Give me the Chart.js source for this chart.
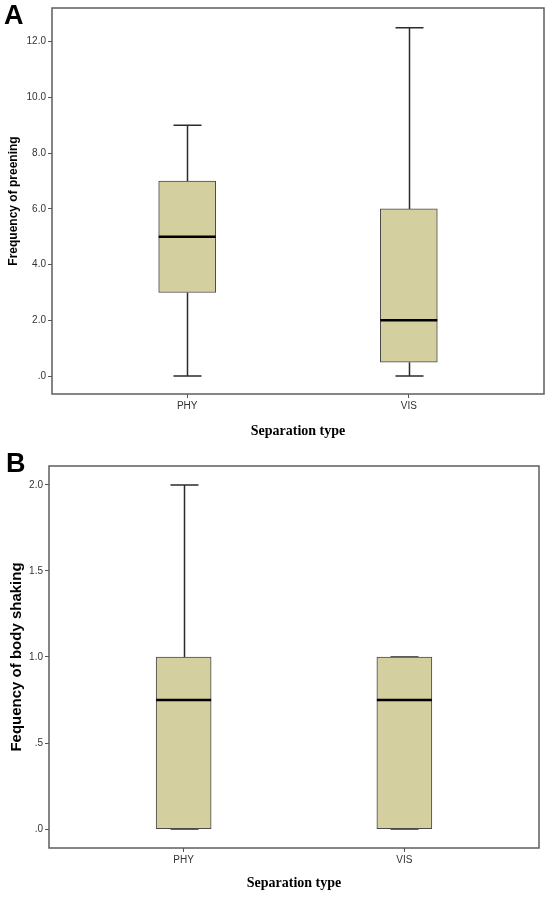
<!DOCTYPE html>
<html lang="en">
<head>
    <meta charset="UTF-8">
    <title>Preening and body shaking by separation type</title>
    <style>
        body { margin: 0; background: #fff; }
        #wrap { position: relative; width: 551px; height: 899px; }
        canvas { position: absolute; left: 0; }
        #chartA { top: 0; }
        #chartB { top: 445px; }
        .panel {
            position: absolute;
            font-family: "Liberation Sans", Arial, sans-serif;
            font-weight: bold;
            font-size: 27px;
            line-height: 1;
            color: #000;
        }
    </style>
    <script src="https://cdn.jsdelivr.net/npm/chart.js"></script>
</head>
<body>
    <div id="wrap">
        <canvas id="chartA" width="551" height="445"></canvas>
        <canvas id="chartB" width="551" height="454"></canvas>
        <div class="panel" style="left:4px; top:2px;">A</div>
        <div class="panel" style="left:6px; top:450px;">B</div>
    </div>

    <script>
        const categories = ['PHY', 'VIS'];

        // panel A - frequency of preening
        const preenMin = [0, 0];
        const preenQ1 = [3, 0.5];
        const preenMedian = [5, 2];
        const preenQ3 = [7, 6];
        const preenMax = [9, 12.5];
        const preenTicks = [0, 2, 4, 6, 8, 10, 12];

        // panel B - frequency of body shaking
        const shakeMin = [0, 0];
        const shakeQ1 = [0, 0];
        const shakeMedian = [0.75, 0.75];
        const shakeQ3 = [1, 1];
        const shakeMax = [2, 1];
        const shakeTicks = [0, 0.5, 1, 1.5, 2];

        const tickFont = { family: '"Liberation Sans", Arial, sans-serif', size: 10 };

        function spssLabel(v) {
            let s = Number(v).toFixed(1);
            if (s.startsWith('0')) s = s.slice(1);
            return s;
        }

        // whiskers, caps, medians and the frame round the plot area
        const boxPlot = {
            id: 'boxPlot',
            beforeDatasetsDraw(chart, args, opts) {
                const ctx = chart.ctx;
                const xs = chart.scales.x, ys = chart.scales.y;
                ctx.save();
                ctx.strokeStyle = '#2b2b2b';
                ctx.lineWidth = 1.5;
                opts.mins.forEach((mn, i) => {
                    const x = Math.round(xs.getPixelForValue(i + 1)) + 0.5;
                    const yMax = ys.getPixelForValue(opts.maxs[i]);
                    const yQ3 = ys.getPixelForValue(opts.q3s[i]);
                    const yQ1 = ys.getPixelForValue(opts.q1s[i]);
                    const yMin = ys.getPixelForValue(mn);
                    ctx.beginPath();
                    ctx.moveTo(x, yMax); ctx.lineTo(x, yQ3);
                    ctx.moveTo(x, yQ1); ctx.lineTo(x, yMin);
                    ctx.moveTo(x - opts.cap, yMax); ctx.lineTo(x + opts.cap, yMax);
                    ctx.moveTo(x - opts.cap, yMin); ctx.lineTo(x + opts.cap, yMin);
                    ctx.stroke();
                });
                ctx.restore();
            },
            afterDatasetsDraw(chart, args, opts) {
                const ctx = chart.ctx;
                const xs = chart.scales.x, ys = chart.scales.y;
                ctx.save();
                ctx.strokeStyle = '#000';
                ctx.lineWidth = 2.5;
                opts.medians.forEach((m, i) => {
                    const x = xs.getPixelForValue(i + 1);
                    const y = ys.getPixelForValue(m);
                    ctx.beginPath();
                    ctx.moveTo(x - opts.half, y);
                    ctx.lineTo(x + opts.half, y);
                    ctx.stroke();
                });
                const a = chart.chartArea;
                ctx.strokeStyle = '#5e5e5e';
                ctx.lineWidth = 1.5;
                ctx.strokeRect(a.left, a.top, a.right - a.left, a.bottom - a.top);
                ctx.restore();
            }
        };

        function makeBox(id, q1, q3, mins, medians, maxs, yTicks, yMin, yMax, yTitle, cfg) {
            const boxes = categories.map((c, i) => ({ x: i + 1, y: [q1[i], q3[i]] }));
            return new Chart(document.getElementById(id), {
                type: 'bar',
                data: {
                    datasets: [{
                        data: boxes,
                        backgroundColor: '#d4cf9f',
                        borderColor: '#4a4a4a',
                        borderWidth: 1,
                        borderSkipped: false,
                        barThickness: cfg.boxWidth
                    }]
                },
                options: {
                    responsive: false,
                    animation: false,
                    devicePixelRatio: 1,
                    layout: { padding: cfg.padding },
                    plugins: {
                        legend: { display: false },
                        tooltip: { enabled: false },
                        boxPlot: {
                            mins: mins, q1s: q1, q3s: q3, medians: medians, maxs: maxs,
                            cap: 14, half: cfg.boxWidth / 2
                        }
                    },
                    scales: {
                        x: {
                            type: 'linear',
                            min: 0.39,
                            max: 2.61,
                            offset: false,
                            afterBuildTicks: s => { s.ticks = categories.map((c, i) => ({ value: i + 1 })); },
                            afterFit: s => { s.height = cfg.xHeight; },
                            ticks: {
                                callback: v => categories[v - 1],
                                font: tickFont,
                                color: '#333',
                                padding: 2,
                                maxRotation: 0
                            },
                            grid: { offset: false, drawOnChartArea: false, drawTicks: true, tickLength: 4, color: '#555' },
                            border: { display: false },
                            title: {
                                display: true,
                                text: 'Separation type',
                                font: { family: '"Liberation Serif", "Times New Roman", serif', size: 14, weight: 'bold' },
                                color: '#000',
                                padding: { top: 0, bottom: cfg.xTitlePad }
                            }
                        },
                        y: {
                            min: yMin,
                            max: yMax,
                            afterBuildTicks: s => { s.ticks = yTicks.map(v => ({ value: v })); },
                            afterFit: s => { s.width = cfg.yWidth; },
                            ticks: { callback: spssLabel, font: tickFont, color: '#333', padding: 2 },
                            grid: { drawOnChartArea: false, drawTicks: true, tickLength: 4, color: '#555' },
                            border: { display: false },
                            title: {
                                display: true,
                                text: yTitle,
                                font: { family: '"Liberation Sans", Arial, sans-serif', size: cfg.yTitleSize, weight: 'bold' },
                                color: '#000',
                                padding: { top: cfg.yTitlePad, bottom: 0 }
                            }
                        }
                    }
                },
                plugins: [boxPlot]
            });
        }

        makeBox('chartA', preenQ1, preenQ3, preenMin, preenMedian, preenMax,
            preenTicks, -0.643, 13.21, 'Frequency of preening',
            { boxWidth: 57, padding: { top: 6, right: 7, left: 0, bottom: 0 },
              xHeight: 51, yWidth: 52, xTitlePad: 5, yTitleSize: 12, yTitlePad: 6 });

        makeBox('chartB', shakeQ1, shakeQ3, shakeMin, shakeMedian, shakeMax,
            shakeTicks, -0.11, 2.11, 'Fequency of body shaking',
            { boxWidth: 55, padding: { top: 21, right: 12, left: 0, bottom: 0 },
              xHeight: 51, yWidth: 49, xTitlePad: 7, yTitleSize: 15, yTitlePad: 8 });
    </script>
</body>
</html>
